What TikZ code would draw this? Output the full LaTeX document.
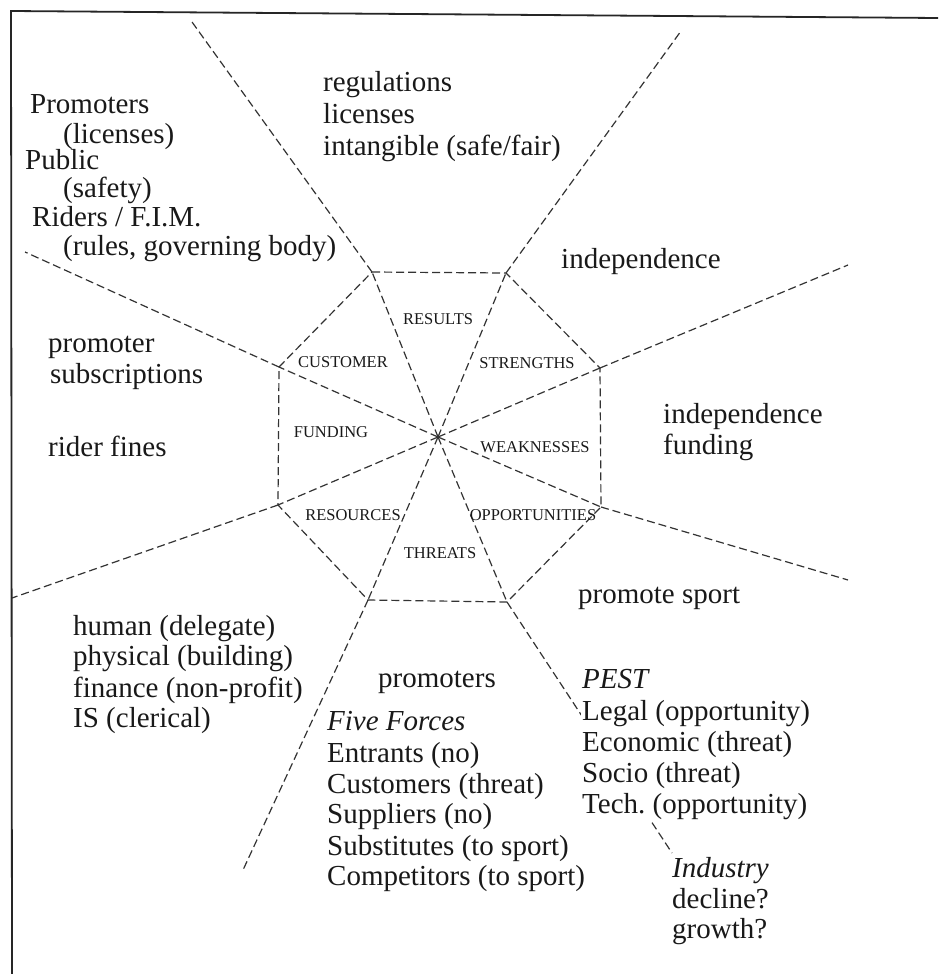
\documentclass[tikz,border=0pt]{standalone}
\usepackage{fontspec}
\setmainfont{Liberation Serif}
\frenchspacing
\begin{document}
\begin{tikzpicture}[x=1pt,y=-1pt,
  rule/.style={line width=1.2pt, dash pattern=on 8pt off 4pt, color=black!80},
  frameline/.style={line width=1.8pt, color=black!85},
  big/.style={anchor=base west, inner sep=0pt, text=black!90, font=\fontsize{29}{29}\selectfont},
  masked/.style={big, fill=white, inner xsep=1pt, text height=22pt, text depth=9pt},
  small/.style={inner sep=0pt, text=black!90, font=\fontsize{16.5}{17}\selectfont}
]
\useasboundingbox[fill=white] (0,0) rectangle (938,974);

% centre, octagon corners and outer ray ends
\coordinate (c) at (438,437);
\coordinate (v1) at (372,272);
\coordinate (v2) at (506,273);
\coordinate (v3) at (600,368);
\coordinate (v4) at (601,507);
\coordinate (v5) at (507,602);
\coordinate (v6) at (368,600);
\coordinate (v7) at (278,505);
\coordinate (v8) at (279,367);
\coordinate (o1) at (192,22);
\coordinate (o2) at (681,31);
\coordinate (o3) at (848,265);
\coordinate (o4) at (848,580);
\coordinate (o5) at (672,853);
\coordinate (o6) at (243,870);
\coordinate (o7) at (12,598);
\coordinate (o8) at (25,252);

% frame (top and left edges)
\coordinate (ftl) at (11,11);
\coordinate (ftr) at (938,18);
\coordinate (fbl) at (12,974);
\draw[frameline] (ftr) -- (ftl) -- (fbl);

% octagon, spokes and outer rays
\draw[rule] (v1) -- (v2) -- (v3) -- (v4) -- (v5) -- (v6) -- (v7) -- (v8) -- cycle;
\foreach \i in {1,...,8} \draw[rule] (c) -- (v\i);
\foreach \i in {1,...,8} \draw[rule] (v\i) -- (o\i);

% segment labels
\node[small] (results) at (438,319) {RESULTS};
\node[small] (customer) at (343,362) {CUSTOMER};
\node[small] (strengths) at (527,363) {STRENGTHS};
\node[small] (funding) at (331,432) {FUNDING};
\node[small] (weak) at (535,447) {WEAKNESSES};
\node[small] (resources) at (353,515) {RESOURCES};
\node[small] (opps) at (533,515) {OPPORTUNITIES};
\node[small] (threats) at (440,553) {THREATS};

% customers
\node[big] (cu1) at (30,113) {Promoters};
\node[big] (cu2) at (63,143) {(licenses)};
\node[big] (cu3) at (25,169) {Public};
\node[big] (cu4) at (63,197) {(safety)};
\node[big] (cu5) at (32,226) {Riders / F.I.M.};
\node[big] (cu6) at (63,255) {(rules, governing body)};

% results
\node[big] (re1) at (323,92) {regulations};
\node[big] (re2) at (323,123) {licenses};
\node[big] (re3) at (323,155) {intangible (safe/fair)};

% strengths
\node[big] (st1) at (561,268) {independence};

% funding
\node[big] (fu1) at (48,352) {promoter};
\node[big] (fu2) at (50,383) {subscriptions};
\node[big] (fu3) at (48,456) {rider fines};

% weaknesses
\node[big] (we1) at (663,423) {independence};
\node[big] (we2) at (663,454) {funding};

% opportunities
\node[big] (op1) at (578,603) {promote sport};

% resources
\node[big] (rs1) at (73,635) {human (delegate)};
\node[big] (rs2) at (73,665) {physical (building)};
\node[big] (rs3) at (73,697) {finance (non-profit)};
\node[big] (rs4) at (73,727) {IS (clerical)};

% threats
\node[big] (th0) at (378,687) {promoters};
\node[big] (th1) at (327,730) {\itshape Five Forces};
\node[big] (th2) at (327,762) {Entrants (no)};
\node[big] (th3) at (327,793) {Customers (threat)};
\node[big] (th4) at (327,823) {Suppliers (no)};
\node[big] (th5) at (327,855) {Substitutes (to sport)};
\node[big] (th6) at (327,885) {Competitors (to sport)};

% PEST (set over the ray)
\node[masked] (pe1) at (581,688) {\itshape PEST};
\node[masked] (pe2) at (581,720) {Legal (opportunity)};
\node[masked] (pe3) at (581,751) {Economic (threat)};
\node[masked] (pe4) at (581,782) {Socio (threat)};
\node[masked] (pe5) at (581,813) {Tech. (opportunity)};

% industry
\node[big] (in1) at (672,877) {\itshape Industry};
\node[big] (in2) at (672,908) {decline?};
\node[big] (in3) at (672,938) {growth?};
\end{tikzpicture}
\end{document}
